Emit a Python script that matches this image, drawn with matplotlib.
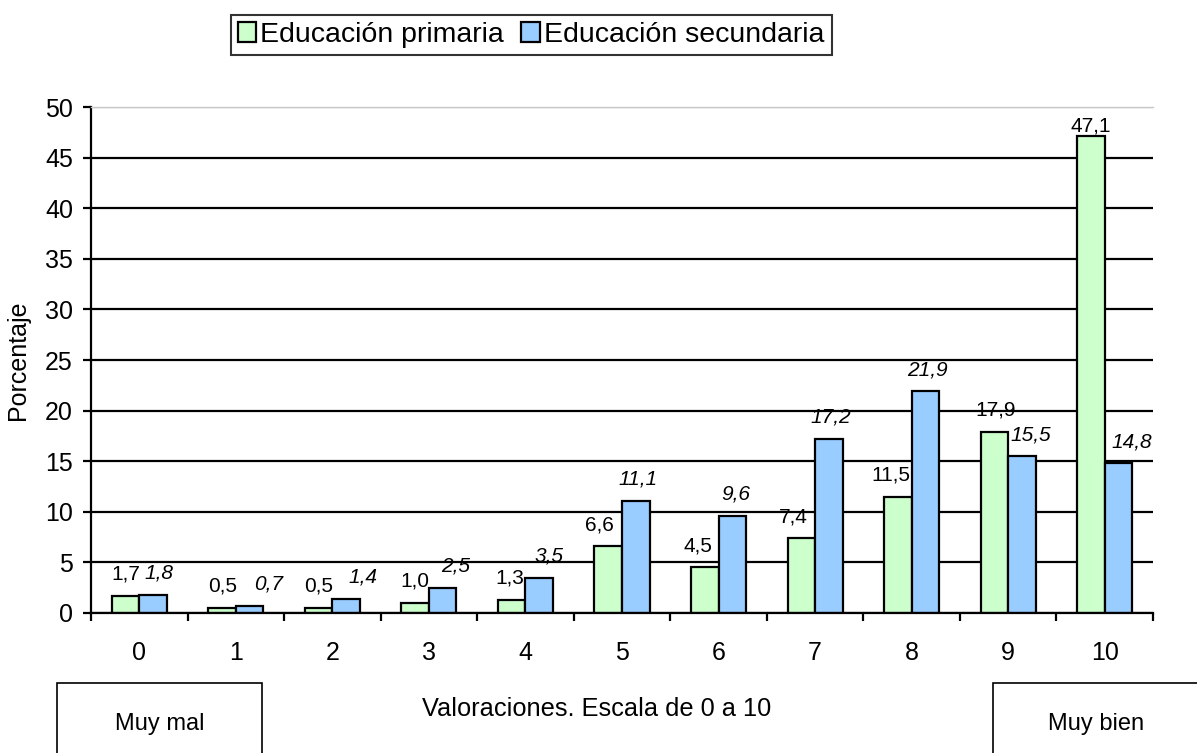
import numpy as np
import matplotlib
matplotlib.use('Agg')
import matplotlib.pyplot as plt
from matplotlib.patches import Rectangle

plt.rcParams['font.family'] = ['Liberation Sans', 'DejaVu Sans']

# datos
categorias = ['0', '1', '2', '3', '4', '5', '6', '7', '8', '9', '10']
primaria = [1.7, 0.5, 0.5, 1.0, 1.3, 6.6, 4.5, 7.4, 11.5, 17.9, 47.1]
secundaria = [1.8, 0.7, 1.4, 2.5, 3.5, 11.1, 9.6, 17.2, 21.9, 15.5, 14.8]
nombres = ['Educación primaria', 'Educación secundaria']

# desplazamientos de las etiquetas (pixeles)
dx_prim = [0, 1, 0, 0, -2, -9, -7, -8, -7, 1, 0]
dx_sec = [6, 19, 17, 13, 10, 2, 3, 2, 2, 9, 13]
dy_prim = [16, 16, 16, 16, 16, 16, 16, 16, 16, 16, 5]
dy_sec = [16] * 11

px = 72 / 100  # pixel -> punto

fig = plt.figure(figsize=(11.97, 7.53), dpi=100)
ax = fig.add_axes([91/1197, 1-613/753, 1062/1197, 506/753])

x = np.arange(len(categorias))
w = 0.285
b1 = ax.bar(x - w/2, primaria, w, color='#CCFFCC', edgecolor='black', linewidth=1.6, label=nombres[0])
b2 = ax.bar(x + w/2, secundaria, w, color='#99CCFF', edgecolor='black', linewidth=1.6, label=nombres[1])

for i in range(len(x)):
    ax.annotate(f'{primaria[i]:.1f}'.replace('.', ','), (x[i] - w/2, primaria[i]),
                xytext=(dx_prim[i]*px, dy_prim[i]*px), textcoords='offset points',
                ha='center', va='baseline', fontsize=15)
    ax.annotate(f'{secundaria[i]:.1f}'.replace('.', ','), (x[i] + w/2, secundaria[i]),
                xytext=(dx_sec[i]*px, dy_sec[i]*px), textcoords='offset points',
                ha='center', va='baseline', fontsize=15, style='italic')

ax.set_xlim(-0.5, 10.5)
ax.set_ylim(0, 50)
ax.set_yticks(np.arange(0, 51, 5))
ax.set_xticks(np.arange(-0.5, 11, 1))
ax.set_xticklabels([])
ax.set_xticks(x, minor=True)
ax.set_xticklabels(categorias, minor=True)
ax.tick_params(axis='x', which='major', direction='out', length=6, width=1.6)
ax.tick_params(axis='x', which='minor', length=0, pad=20, labelsize=18)
ax.tick_params(axis='y', direction='out', length=6, width=1.6, pad=7, labelsize=18)

ax.set_axisbelow(True)
ax.yaxis.grid(True, color='black', linewidth=1.6)
gl = ax.get_ygridlines()
gl[-1].set_color('#c8c8c8')
gl[-1].set_linewidth(1.0)

ax.spines['right'].set_visible(False)
ax.spines['top'].set_color('#c8c8c8')
ax.spines['top'].set_linewidth(1.0)
ax.spines['left'].set_linewidth(1.6)
ax.spines['bottom'].set_linewidth(1.6)

ax.set_ylabel('Porcentaje', fontsize=18)
ax.yaxis.set_label_coords(-0.057, 0.5)
ax.set_xlabel('Valoraciones. Escala de 0 a 10', fontsize=18.3)
ax.xaxis.set_label_coords(0.476, -0.166)

leg = fig.legend(handles=[b1, b2], loc='center', bbox_to_anchor=(531/1197, 1-35/753),
                 ncol=2, fontsize=20.5, frameon=True, fancybox=False, edgecolor='black',
                 handlelength=0.65, handleheight=0.65, handletextpad=0.15, columnspacing=0.6,
                 borderpad=0.25, borderaxespad=0)
leg.get_frame().set_linewidth(1.5)

# cuadros de los extremos
fig.patches.append(Rectangle((57/1197, -0.02), 205/1197, 0.02 + 1 - 683/753,
                             transform=fig.transFigure, fill=False, edgecolor='black', linewidth=1.2))
fig.patches.append(Rectangle((993/1197, -0.02), 0.2, 0.02 + 1 - 683/753,
                             transform=fig.transFigure, fill=False, edgecolor='black', linewidth=1.2))
fig.text(160/1197, 1-724/753, 'Muy mal', ha='center', va='center', fontsize=17)
fig.text(1096/1197, 1-724/753, 'Muy bien', ha='center', va='center', fontsize=17)

fig.savefig('out.png', dpi=100)
